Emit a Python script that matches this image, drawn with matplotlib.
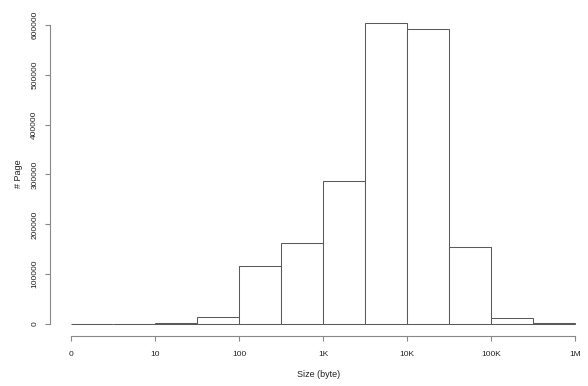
import numpy as np
from matplotlib import pyplot as plt

plt.rcParams['font.family'] = ['Liberation Sans', 'DejaVu Sans']

# half-decade bins of log10(size)
edges = np.arange(0, 6.5, 0.5)
counts = [800, 0, 1000, 14000, 116000, 162000, 287000, 604000, 592000, 154000, 12000, 2000]
xticks = [0, 1, 2, 3, 4, 5, 6]
xlabels = ['0', '10', '100', '1K', '10K', '100K', '1M']
yticks = [0, 100000, 200000, 300000, 400000, 500000, 600000]

fig = plt.figure(figsize=(5.88, 3.86), dpi=100)
ax = fig.add_axes([50/588, 50/386, 538/588, 325/386])

ax.hist(edges[:-1], bins=edges, weights=counts, histtype='bar',
        facecolor='white', edgecolor='#5a5a5a', linewidth=0.75)

ax.set_xlim(-0.25, (588-71)/84)
ax.set_ylim(-24160, 628160)

for s in ['top', 'right']:
    ax.spines[s].set_visible(False)
ax.spines['left'].set_bounds(0, 600000)
ax.spines['bottom'].set_bounds(0, 6)
for s in ['left', 'bottom']:
    ax.spines[s].set_color('#888888')
    ax.spines[s].set_linewidth(0.8)

ax.set_xticks(xticks)
ax.set_xticklabels(xlabels)
ax.set_yticks(yticks)
ax.set_yticklabels([str(v) for v in yticks], rotation=90, va='center')
ax.tick_params(axis='both', length=3.5, width=0.8, color='#888888',
               labelsize=6, labelcolor='#222222')
ax.tick_params(axis='x', pad=7)
ax.tick_params(axis='y', pad=5)

ax.set_xlabel('Size (byte)', fontsize=6.5, color='#222222', labelpad=9)
ax.set_ylabel('# Page', fontsize=6.5, color='#222222', labelpad=6)

plt.savefig('out.png', dpi=100)
